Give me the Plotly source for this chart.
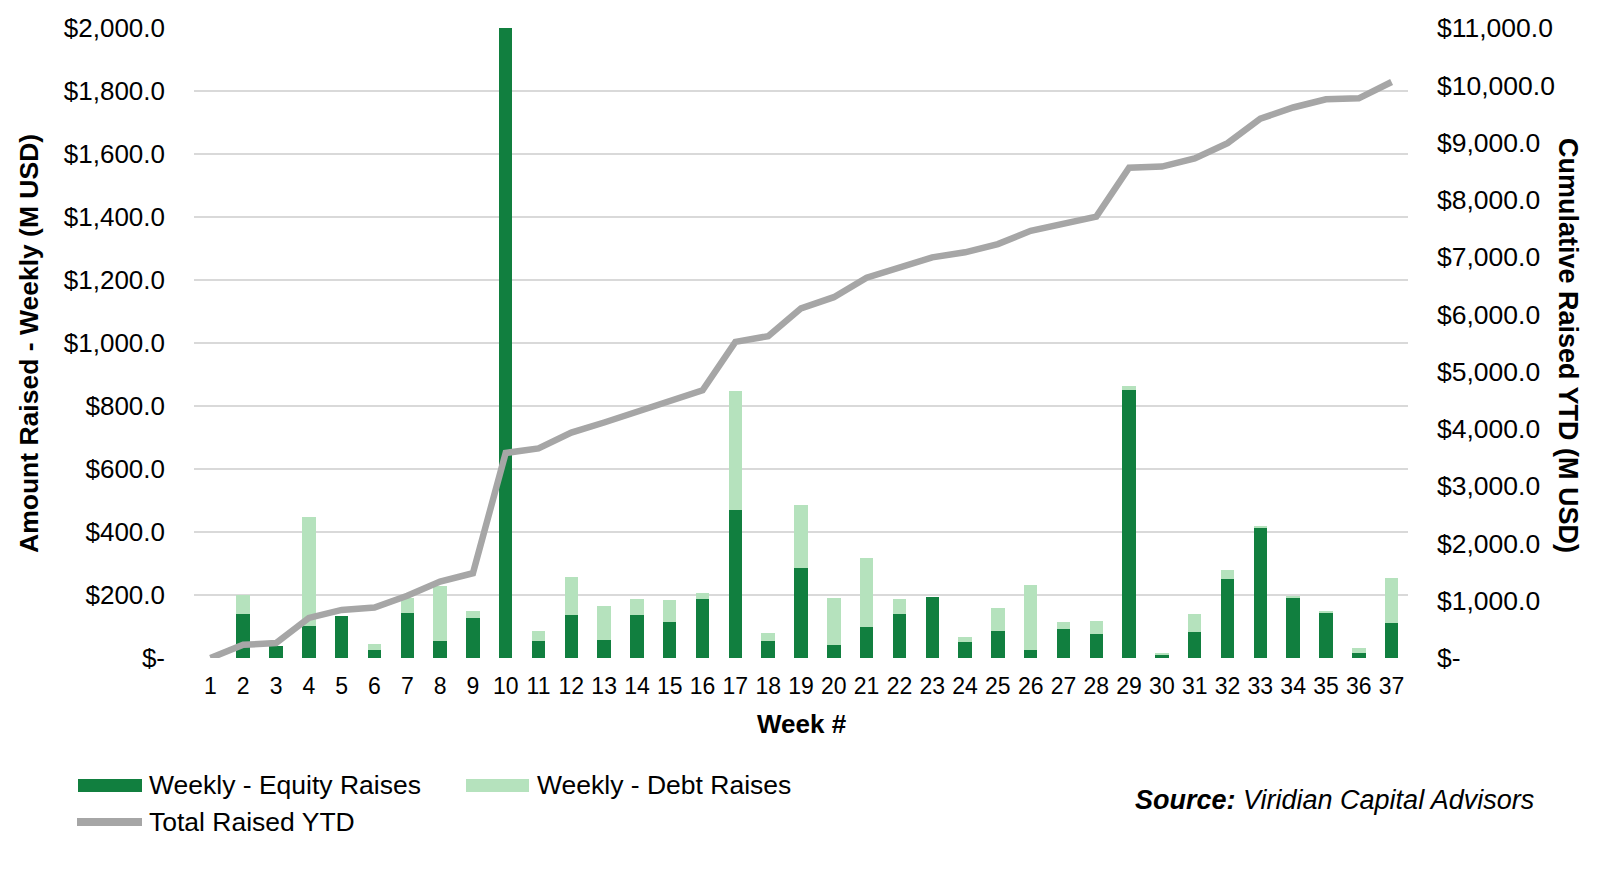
import plotly.graph_objects as go

# ---------------- data ----------------
weeks = ["1", "2", "3", "4", "5", "6", "7", "8", "9", "10", "11", "12", "13",
         "14", "15", "16", "17", "18", "19", "20", "21", "22", "23", "24", "25",
         "26", "27", "28", "29", "30", "31", "32", "33", "34", "35", "36", "37"]

equity_raises = [0, 141, 39, 103, 134, 26, 144, 55, 126, 2080, 55, 135, 57,
                 135, 115, 186, 471, 55, 287, 41, 97, 141, 194, 52, 86,
                 24, 91, 77, 851, 8, 83, 250, 415, 193, 144, 15, 110]

debt_raises = [0, 59, 0, 346, 0, 17, 46, 175, 24, 0, 30, 123, 109,
               53, 68, 21, 376, 25, 198, 151, 220, 47, 0, 16, 72,
               209, 22, 39, 11, 9, 58, 28, 5, 2, 6, 18, 145]

total_ytd = [0, 230, 260, 700, 840, 880, 1086, 1335, 1480, 3580, 3660, 3935, 4112,
             4300, 4475, 4675, 5520, 5620, 6105, 6300, 6640, 6817, 6995, 7084, 7227,
             7458, 7583, 7707, 8562, 8580, 8722, 8989, 9416, 9612, 9754, 9772, 10057]

left_tickvals = [0, 200, 400, 600, 800, 1000, 1200, 1400, 1600, 1800, 2000]
left_ticktext = ["$-", "$200.0", "$400.0", "$600.0", "$800.0", "$1,000.0",
                 "$1,200.0", "$1,400.0", "$1,600.0", "$1,800.0", "$2,000.0"]
right_tickvals = [0, 1000, 2000, 3000, 4000, 5000, 6000, 7000, 8000, 9000, 10000, 11000]
right_ticktext = ["$-", "$1,000.0", "$2,000.0", "$3,000.0", "$4,000.0", "$5,000.0",
                  "$6,000.0", "$7,000.0", "$8,000.0", "$9,000.0", "$10,000.0", "$11,000.0"]

# ---------------- style ----------------
EQUITY = "#117F3F"
DEBT = "#B5E2BD"
LINE = "#A6A6A6"
GRID = "#D9D9D9"
FONT = "Liberation Sans, Arial, sans-serif"
TXT = "#000000"

OFF = 8  # page body margin
W, H = 1600, 874
PX0, PX1, PY0, PY1 = 194, 1408, 28, 658      # plot area in screen pixels
L, T = PX0 - OFF, PY0 - OFF
PW, PH = PX1 - PX0, PY1 - PY0
R, B = W - L - PW, H - T - PH


def px(x):
    return (x - PX0) / PW


def py(y):
    return (PY1 - y) / PH


fig = go.Figure()
fig.add_trace(go.Bar(x=weeks, y=equity_raises, name="Weekly - Equity Raises",
                     marker=dict(color=EQUITY, line=dict(width=0)), width=0.41))
fig.add_trace(go.Bar(x=weeks, y=debt_raises, name="Weekly - Debt Raises",
                     marker=dict(color=DEBT, line=dict(width=0)), width=0.41))
fig.add_trace(go.Scatter(x=weeks, y=total_ytd, name="Total Raised YTD", yaxis="y2",
                         mode="lines", line=dict(color=LINE, width=6.5)))

fig.update_layout(
    width=W, height=H,
    margin=dict(l=L, r=R, t=T, b=B, pad=0, autoexpand=False),
    paper_bgcolor="white", plot_bgcolor="white",
    barmode="stack", bargap=0.59,
    showlegend=False,
    font=dict(family=FONT, color=TXT),
    xaxis=dict(type="category", categoryorder="array", categoryarray=weeks,
               showgrid=False, showline=False, zeroline=False, ticks="",
               automargin=False,
               tickfont=dict(size=23, color=TXT), ticklabelstandoff=12),
    yaxis=dict(range=[0, 2000], tickvals=left_tickvals, ticktext=left_ticktext,
               showgrid=True, gridcolor=GRID, gridwidth=2, zeroline=False,
               showline=False, ticks="", automargin=False,
               tickfont=dict(size=26, color=TXT), ticklabelstandoff=28),
    yaxis2=dict(range=[0, 11000], tickvals=right_tickvals, ticktext=right_ticktext,
                overlaying="y", side="right", showgrid=False, zeroline=False,
                showline=False, ticks="", automargin=False,
                tickfont=dict(size=26.5, color=TXT), ticklabelstandoff=28),
)

ann = []
ann.append(dict(text="<b>Week #</b>", x=px(802), y=py(724), xref="paper", yref="paper",
                showarrow=False, xanchor="center", yanchor="middle",
                font=dict(size=26, color=TXT, family=FONT)))
ann.append(dict(text="<b>Amount Raised - Weekly (M USD)</b>", x=px(29), y=py(344),
                xref="paper", yref="paper", showarrow=False, textangle=-90,
                xanchor="center", yanchor="middle",
                font=dict(size=26.5, color=TXT, family=FONT)))
ann.append(dict(text="<b>Cumulative Raised YTD (M USD)</b>", x=px(1568), y=py(345),
                xref="paper", yref="paper", showarrow=False, textangle=90,
                xanchor="center", yanchor="middle",
                font=dict(size=27, color=TXT, family=FONT)))
ann.append(dict(text="<b><i>Source:</i></b><i> Viridian Capital Advisors</i>",
                x=px(1536), y=py(800), xref="paper", yref="paper", showarrow=False,
                xanchor="right", yanchor="middle",
                font=dict(size=27, color=TXT, family=FONT)))
# legend texts
for label, lx, ly in [("Weekly - Equity Raises", 147, 785),
                      ("Weekly - Debt Raises", 535, 785),
                      ("Total Raised YTD", 147, 822)]:
    ann.append(dict(text=label, x=px(lx), y=py(ly), xref="paper", yref="paper",
                    showarrow=False, xanchor="left", yanchor="middle",
                    font=dict(size=26.5, color=TXT, family=FONT)))
fig.update_layout(annotations=ann)

shapes = [
    dict(type="rect", xref="paper", yref="paper", x0=px(78), x1=px(142),
         y0=py(779), y1=py(792), fillcolor=EQUITY, line=dict(width=0)),
    dict(type="rect", xref="paper", yref="paper", x0=px(466), x1=px(529),
         y0=py(779), y1=py(792), fillcolor=DEBT, line=dict(width=0)),
    dict(type="line", xref="paper", yref="paper", x0=px(77), x1=px(142),
         y0=py(822), y1=py(822), line=dict(color=LINE, width=8)),
]
fig.update_layout(shapes=shapes)

fig.write_html("out.html")
